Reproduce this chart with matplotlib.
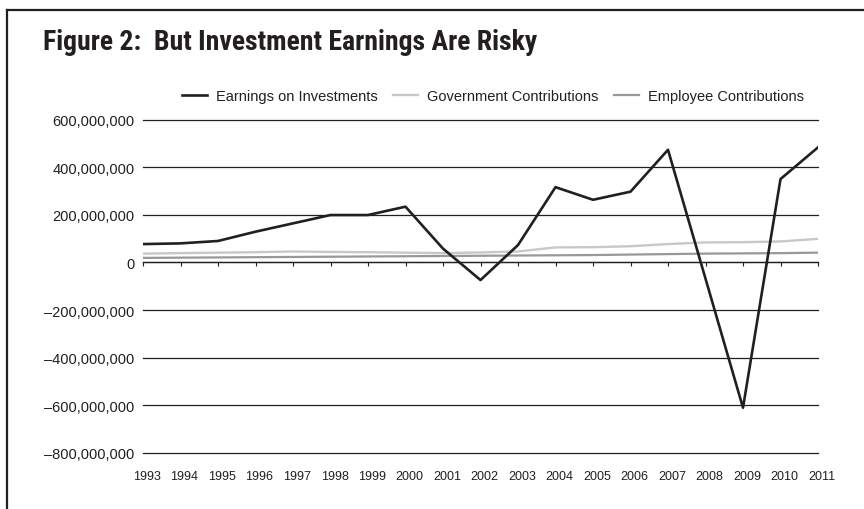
#!/usr/bin/env python3
"""Pension fund cash flows 1993-2011: investment earnings vs. contributions."""

import matplotlib

matplotlib.use("Agg")

import matplotlib.pyplot as plt
import matplotlib.transforms as mtransforms
from matplotlib import font_manager
from matplotlib.lines import Line2D
from matplotlib.ticker import FuncFormatter, MultipleLocator


years = list(range(1993, 2012))

# dollars, read per year
earnings = [
    77e6, 80e6, 90e6, 129e6, 164e6, 199e6, 199e6, 234e6, 58e6, -74e6,
    73e6, 316e6, 263e6, 297e6, 473e6, -68e6, -610e6, 350e6, 483e6,
]
government = [
    37e6, 39e6, 41e6, 43e6, 46e6, 44e6, 43e6, 41e6, 39e6, 42e6,
    46e6, 63e6, 64e6, 68e6, 77e6, 84e6, 85e6, 88e6, 99e6,
]
employee = [
    19e6, 20e6, 21e6, 22e6, 23e6, 24e6, 25e6, 26e6, 27e6, 28e6,
    29e6, 30e6, 31e6, 33e6, 35e6, 37e6, 38e6, 39e6, 41e6,
]

series_labels = [
    "Earnings on Investments",
    "Government Contributions",
    "Employee Contributions",
]

title_text = "Figure 2:  But Investment Earnings Are Risky"

INK = "#231f20"


def first_font(*names):
    installed = {f.name for f in font_manager.fontManager.ttflist}
    for name in names:
        if name in installed:
            return name
    return "DejaVu Sans"


body_font = first_font("Liberation Sans", "Arial", "DejaVu Sans")
narrow_font = first_font("Liberation Sans Narrow", "Roboto Condensed", "DejaVu Sans Condensed", body_font)

plt.rcParams["font.family"] = body_font

fig = plt.figure(figsize=(8.64, 5.10), dpi=100)
ax = fig.add_axes([143 / 864, 1 - 454 / 510, 675 / 864, 333.5 / 510])

ax.plot(years, government, color="#c8c8c8", linewidth=1.7, zorder=3, label=series_labels[1])
ax.plot(years, employee, color="#989898", linewidth=1.6, zorder=3, label=series_labels[2])
ax.plot(years, earnings, color=INK, linewidth=1.9, zorder=4, label=series_labels[0])

ax.set_xlim(years[0], years[-1])
ax.set_ylim(-800e6, 600e6)

# horizontal rules every 200 million
ax.yaxis.set_major_locator(MultipleLocator(200e6))
ax.yaxis.set_major_formatter(
    FuncFormatter(lambda v, _: "0" if v == 0 else f"{v:,.0f}".replace("-", "\u2013"))
)
ax.grid(axis="y", color=INK, linewidth=0.9, zorder=1)
for rule in ax.get_ygridlines():
    rule.set_clip_on(False)
ax.tick_params(axis="y", length=0, pad=6, labelsize=10.5, labelcolor=INK)

for name in ["left", "right", "top"]:
    ax.spines[name].set_visible(False)

# the zero line carries the year ticks; labels sit below the plot
ax.spines["bottom"].set_position(("data", 0))
ax.spines["bottom"].set_color(INK)
ax.spines["bottom"].set_linewidth(0.9)
ax.set_xticks(years)
ax.tick_params(axis="x", direction="out", length=3, width=0.8, color=INK, labelbottom=False)

year_axis = ax.secondary_xaxis("bottom")
year_axis.spines["bottom"].set_visible(False)
year_axis.set_xticks(years)
year_axis.set_xticklabels([str(y) for y in years], fontsize=9, color=INK)
year_axis.tick_params(length=0, pad=12.5)
nudge = mtransforms.ScaledTranslation(4 / 100, 0, fig.dpi_scale_trans)
for label in year_axis.get_xticklabels():
    label.set_transform(label.get_transform() + nudge)

handles, labels = ax.get_legend_handles_labels()
order = [2, 0, 1]
fig.legend(
    [handles[i] for i in order],
    [labels[i] for i in order],
    loc="center",
    bbox_to_anchor=(493 / 864, 1 - 97 / 510),
    ncol=3,
    frameon=False,
    fontsize=10.5,
    handlelength=1.7,
    handletextpad=0.6,
    columnspacing=1.1,
    labelcolor=INK,
)

fig.text(
    43 / 864,
    1 - 49.5 / 510,
    title_text,
    ha="left",
    va="baseline",
    fontsize=20,
    fontweight="bold",
    fontfamily=narrow_font,
    color=INK,
)

# open frame: top rule and left rule
fig.add_artist(Line2D([7 / 864, 1], [1 - 10.5 / 510] * 2, transform=fig.transFigure, color=INK, linewidth=1.6))
fig.add_artist(Line2D([7 / 864] * 2, [0, 1 - 10.5 / 510], transform=fig.transFigure, color=INK, linewidth=1.6))

fig.savefig("out.png", dpi=100, facecolor="white")
